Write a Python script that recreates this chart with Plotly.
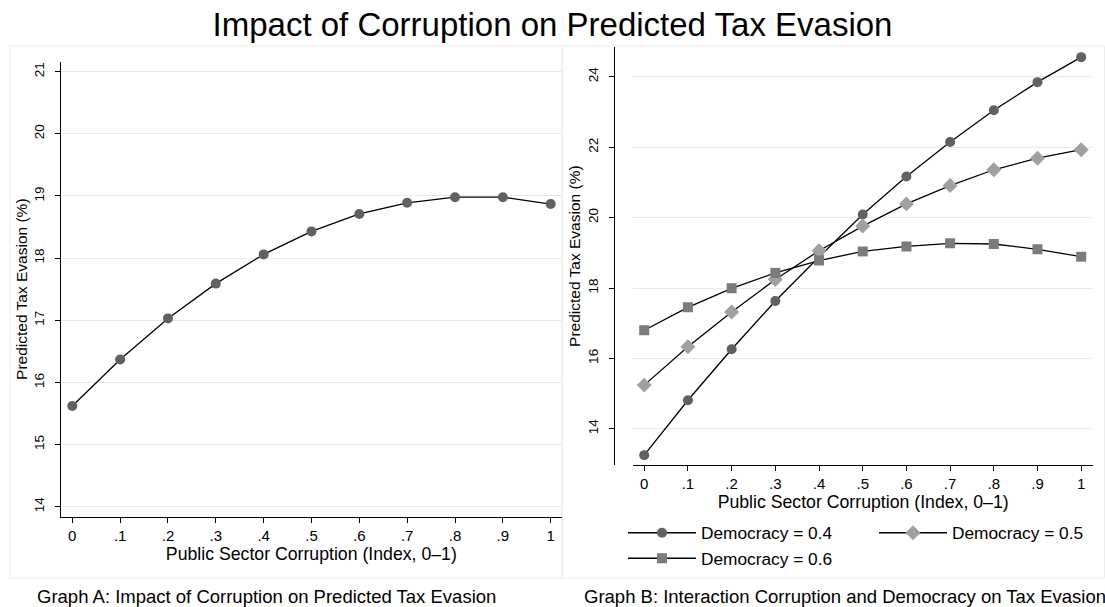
import plotly.graph_objects as go

W, H = 1105, 607

# ---------------- data ----------------
corruption = [0, 0.1, 0.2, 0.3, 0.4, 0.5, 0.6, 0.7, 0.8, 0.9, 1.0]
x_tick_text = ["0", ".1", ".2", ".3", ".4", ".5", ".6", ".7", ".8", ".9", "1"]

pred_a = [15.62, 16.37, 17.03, 17.59, 18.06, 18.43, 18.71, 18.89, 18.98, 18.98, 18.87]

dem_04 = [13.25, 14.81, 16.26, 17.63, 18.88, 20.09, 21.17, 22.15, 23.05, 23.85, 24.56]
dem_05 = [15.24, 16.33, 17.32, 18.24, 19.06, 19.76, 20.39, 20.91, 21.36, 21.69, 21.93]
dem_06 = [16.80, 17.45, 17.99, 18.43, 18.78, 19.04, 19.18, 19.27, 19.25, 19.10, 18.89]

y_ticks_a = [14, 15, 16, 17, 18, 19, 20, 21]
y_ticks_b = [14, 16, 18, 20, 22, 24]

series_labels = ["Democracy = 0.4", "Democracy = 0.5", "Democracy = 0.6"]

title_text = "Impact of Corruption on Predicted Tax Evasion"
caption_a = "Graph A: Impact of Corruption on Predicted Tax Evasion"
caption_b = "Graph B: Interaction Corruption and Democracy on Tax Evasion"
y_title = "Predicted Tax Evasion (%)"
x_title = "Public Sector Corruption (Index, 0\u20131)"

# ---------------- helpers ----------------
FONT = "Arial, Liberation Sans, sans-serif"
px = lambda v: v / W
py = lambda v: 1 - v / H

fig = go.Figure()

line_style = dict(color="black", width=1.3)

fig.add_trace(go.Scatter(
    x=corruption, y=pred_a, mode="lines+markers",
    line=line_style,
    marker=dict(symbol="circle", size=10, color="#616161"),
    xaxis="x", yaxis="y", showlegend=False,
))

fig.add_trace(go.Scatter(
    x=corruption, y=dem_04, mode="lines+markers", name=series_labels[0],
    line=line_style,
    marker=dict(symbol="circle", size=10, color="#616161"),
    xaxis="x2", yaxis="y2", legend="legend",
))
fig.add_trace(go.Scatter(
    x=corruption, y=dem_05, mode="lines+markers", name=series_labels[1],
    line=line_style,
    marker=dict(symbol="diamond", size=11.5, color="#a0a0a0"),
    xaxis="x2", yaxis="y2", legend="legend2",
))
fig.add_trace(go.Scatter(
    x=corruption, y=dem_06, mode="lines+markers", name=series_labels[2],
    line=line_style,
    marker=dict(symbol="square", size=10, color="#7b7b7b"),
    xaxis="x2", yaxis="y2", legend="legend",
))

axis_common = dict(
    showline=True, linecolor="black", linewidth=1,
    ticks="outside", ticklen=5, tickcolor="black", tickwidth=1,
    zeroline=False,
)
x_tickfont = dict(family=FONT, size=15, color="black")
y_tickfont = dict(family=FONT, size=13.5, color="black")
title_font = dict(family=FONT, size=17.7, color="black")
ytitle_font = dict(family=FONT, size=15.5, color="black")

fig.update_layout(
    width=W, height=H,
    margin=dict(l=0, r=0, t=0, b=0),
    paper_bgcolor="white", plot_bgcolor="white",
    font=dict(family=FONT, color="black"),
    title=dict(text=title_text, x=0.5, xanchor="center", y=py(24), yanchor="middle",
               font=dict(family=FONT, size=33, color="black")),
    xaxis=dict(
        domain=[px(61), px(561.7)], anchor="y",
        range=[-0.0236, 1.023],
        tickvals=corruption, ticktext=x_tick_text, tickfont=x_tickfont,
        showgrid=False,
        title=dict(text=x_title, font=title_font, standoff=0),
        **axis_common,
    ),
    yaxis=dict(
        domain=[py(516.7), py(61.7)], anchor="x",
        range=[13.84, 21.16],
        tickvals=y_ticks_a, tickangle=-90, tickfont=y_tickfont,
        ticklabelstandoff=6,
        showgrid=True, gridcolor="#e9e9e9", gridwidth=1,
        title=dict(text=y_title, font=ytitle_font, standoff=0),
        **axis_common,
    ),
    xaxis2=dict(
        domain=[px(633.3), px(1093)], anchor="y2",
        range=[-0.025, 1.027],
        tickvals=corruption, ticktext=x_tick_text, tickfont=x_tickfont,
        showgrid=False,
        title=dict(text=x_title, font=title_font, standoff=0),
        **axis_common,
    ),
    yaxis2=dict(
        domain=[py(465), py(47.3)], anchor="free", position=px(614.3),
        range=[12.97, 24.84],
        tickvals=y_ticks_b, tickangle=-90, tickfont=y_tickfont,
        ticklabelstandoff=6,
        showgrid=True, gridcolor="#e9e9e9", gridwidth=1,
        title=dict(text=y_title, font=ytitle_font, standoff=0),
        **axis_common,
    ),
    legend=dict(
        x=px(623), xanchor="left", y=py(515), yanchor="top",
        orientation="v", itemwidth=68, tracegroupgap=0,
        font=dict(family=FONT, size=17.3, color="black"),
        bgcolor="rgba(0,0,0,0)",
    ),
    legend2=dict(
        x=px(874), xanchor="left", y=py(515), yanchor="top",
        orientation="v", itemwidth=68,
        font=dict(family=FONT, size=17.3, color="black"),
        bgcolor="rgba(0,0,0,0)",
    ),
)

# panel frames
fig.add_shape(type="rect", xref="paper", yref="paper",
              x0=px(10), x1=px(562), y0=py(578), y1=py(46),
              line=dict(color="#ececec", width=1), layer="below")
fig.add_shape(type="rect", xref="paper", yref="paper",
              x0=px(562), x1=px(1104.5), y0=py(578), y1=py(46),
              line=dict(color="#ececec", width=1), layer="below")

# captions
fig.add_annotation(text=caption_a, xref="paper", yref="paper",
                   x=px(266.5), y=py(596), xanchor="center", yanchor="middle",
                   showarrow=False, font=dict(family=FONT, size=18.5, color="black"))
fig.add_annotation(text=caption_b, xref="paper", yref="paper",
                   x=px(582), y=py(596), xanchor="left", yanchor="middle",
                   showarrow=False, font=dict(family=FONT, size=18.5, color="black"))

fig.write_html(
    "out.html",
    config={"displayModeBar": False},
    post_script="document.body.style.margin='0';document.body.style.overflow='hidden';",
)
